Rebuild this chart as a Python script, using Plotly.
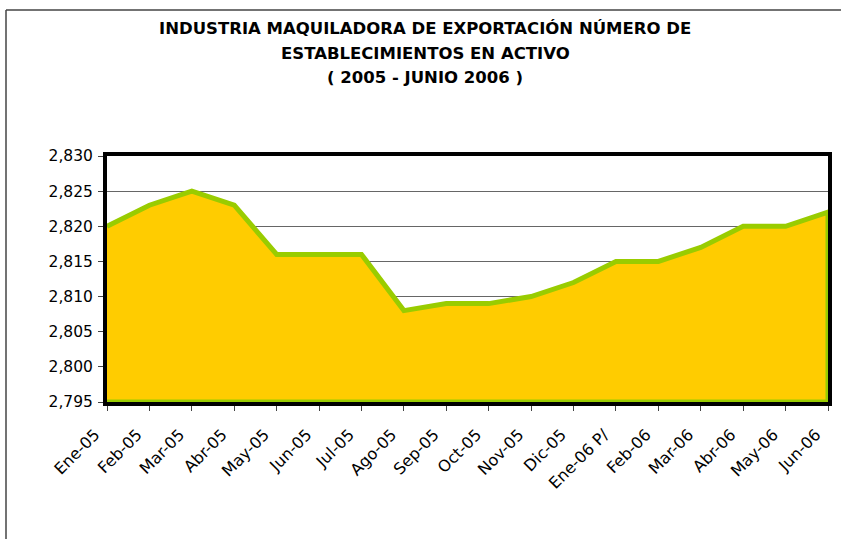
import plotly.graph_objects as go

months = ["Ene-05", "Feb-05", "Mar-05", "Abr-05", "May-05", "Jun-05", "Jul-05", "Ago-05",
          "Sep-05", "Oct-05", "Nov-05", "Dic-05", "Ene-06 P/", "Feb-06", "Mar-06", "Abr-06",
          "May-06", "Jun-06"]
establecimientos = [2820, 2823, 2825, 2823, 2816, 2816, 2816, 2808, 2809, 2809, 2810, 2812,
                    2815, 2815, 2817, 2820, 2820, 2822]
y_min, y_max, y_step = 2795, 2830, 5
title_lines = ["INDUSTRIA MAQUILADORA DE EXPORTACIÓN NÚMERO DE",
               "ESTABLECIMIENTOS EN ACTIVO",
               "( 2005 - JUNIO 2006 )"]

idx = list(range(len(months)))
n = len(months)

W, H = 841, 539
L, R, T, B = 107, 13, 156, 137
pw, ph = W - L - R, H - T - B

def px_x(p):
    return (p - L) / pw

def px_y(p):
    return (H - B - p) / ph

FONT = "DejaVu Sans, Liberation Sans, Arial, sans-serif"

fig = go.Figure()
fig.add_trace(go.Scatter(
    x=idx + idx[::-1],
    y=establecimientos + [y_min] * n,
    fill="toself",
    fillcolor="#FFCC00",
    mode="lines",
    line=dict(color="#99CC00", width=5),
    hoverinfo="skip",
    showlegend=False,
))

fig.update_layout(
    width=W, height=H,
    margin=dict(l=L, r=R, t=T, b=B, autoexpand=False),
    paper_bgcolor="white",
    plot_bgcolor="white",
    showlegend=False,
    font=dict(family=FONT, color="black"),
    xaxis=dict(
        range=[0, n - 1],
        tickmode="array",
        tickvals=idx,
        ticktext=months,
        tickangle=-45,
        tickfont=dict(size=16, color="black"),
        ticklabelstandoff=8,
        ticklabelshift=-12,
        showgrid=False,
        zeroline=False,
        showline=True, linecolor="black", linewidth=4, mirror=True,
        ticks="outside", ticklen=5, tickcolor="#444", tickwidth=1,
    ),
    yaxis=dict(
        range=[y_min, y_max],
        tickmode="linear", tick0=y_min, dtick=y_step,
        tickformat=",d",
        tickfont=dict(size=15.5, color="black"),
        ticklabelstandoff=2,
        showgrid=True, gridcolor="#666666", gridwidth=1,
        zeroline=False,
        showline=True, linecolor="black", linewidth=4, mirror=True,
        ticks="outside", ticklen=5, tickcolor="#444", tickwidth=1,
    ),
)

for txt, py in zip(title_lines, [28, 53, 78]):
    fig.add_annotation(
        text=f"<b>{txt}</b>", xref="paper", yref="paper",
        x=px_x(425), y=px_y(py), xanchor="center", yanchor="middle",
        showarrow=False, font=dict(size=16.5, color="black", family=FONT),
    )

# outer chart frame (top and left edges)
fig.add_shape(type="line", xref="paper", yref="paper",
              x0=px_x(6), y0=px_y(10), x1=px_x(841), y1=px_y(10),
              line=dict(color="#444444", width=1.5))
fig.add_shape(type="line", xref="paper", yref="paper",
              x0=px_x(6), y0=px_y(10), x1=px_x(6), y1=px_y(539),
              line=dict(color="#444444", width=1.5))

fig.write_html("out.html",
               config={"displayModeBar": False},
               post_script="document.body.style.margin='0';document.body.style.overflow='hidden';")
